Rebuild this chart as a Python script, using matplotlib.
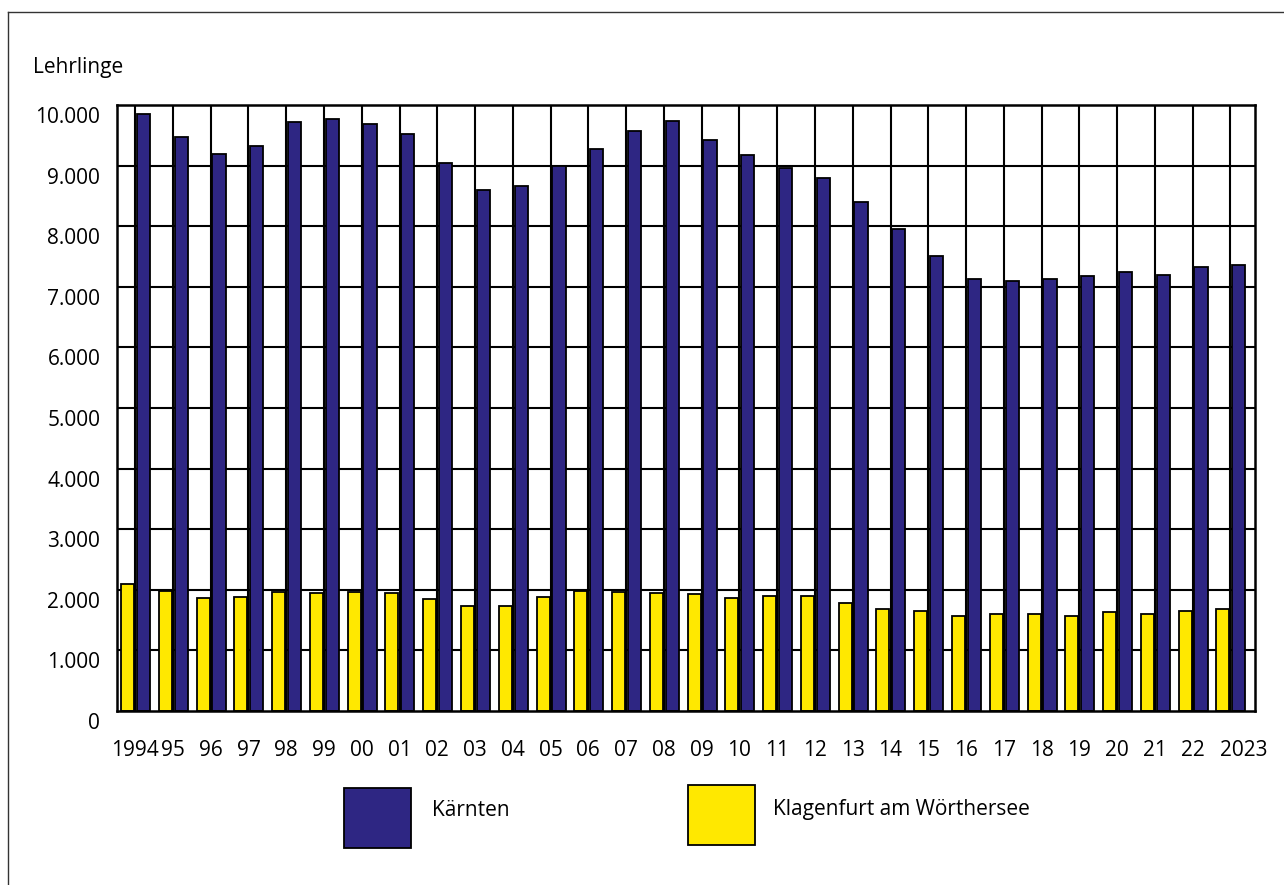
import matplotlib.pyplot as plt
import matplotlib.transforms as mtransforms
from matplotlib.patches import Rectangle
from matplotlib.lines import Line2D
import numpy as np

plt.rcParams['font.family'] = ['Open Sans', 'DejaVu Sans']

# Daten (Lehrlinge pro Jahr)
jahre = list(range(1994, 2024))
x_labels = ['1994', '95', '96', '97', '98', '99', '00', '01', '02', '03', '04',
            '05', '06', '07', '08', '09', '10', '11', '12', '13', '14', '15',
            '16', '17', '18', '19', '20', '21', '22', '2023']
kaernten = [9850, 9478, 9185, 9330, 9712, 9767, 9686, 9516, 9043, 8594,
            8660, 8996, 9282, 9575, 9728, 9425, 9168, 8965, 8795, 8392,
            7955, 7505, 7135, 7088, 7125, 7170, 7240, 7195, 7328, 7360]
klagenfurt = [2090, 1985, 1860, 1881, 1958, 1948, 1968, 1950, 1846, 1730,
              1733, 1886, 1985, 1969, 1942, 1925, 1860, 1892, 1903, 1777,
              1688, 1655, 1573, 1606, 1598, 1573, 1629, 1595, 1645, 1683]

blau = '#2E2683'
gelb = '#FFE800'
fs = 15

fig = plt.figure(figsize=(12.84, 8.85), dpi=100)
ax = fig.add_axes([117/1284, 1-711/885, (1255-117)/1284, (711-105)/885])

idx = np.arange(len(jahre))
ax.bar(idx + 0.28, klagenfurt, width=0.345, color=gelb, edgecolor='black',
       linewidth=1.3, zorder=3)
ax.bar(idx + 0.70, kaernten, width=0.35, color=blau, edgecolor='black',
       linewidth=1.3, zorder=3)

ax.set_xlim(0, 30.13)
ax.set_ylim(0, 10000)

# Gitterlinien
for yv in range(1000, 10000, 1000):
    ax.axhline(yv, color='black', linewidth=1.5, zorder=1)
for i in idx:
    ax.axvline(i + 0.48, color='black', linewidth=1.5, zorder=1)

for s in ax.spines.values():
    s.set_linewidth(1.8)
    s.set_zorder(4)

ax.set_yticks(range(0, 10001, 1000))
ax.set_yticklabels([f'{v:,}'.replace(',', '.') for v in range(0, 10001, 1000)])
ax.tick_params(axis='y', length=0, pad=12, labelsize=fs)
off = mtransforms.ScaledTranslation(0, -0.10, fig.dpi_scale_trans)
for lab in ax.get_yticklabels():
    lab.set_transform(lab.get_transform() + off)

ax.set_xticks(idx + 0.48)
ax.set_xticklabels(x_labels)
ax.tick_params(axis='x', length=0, pad=21, labelsize=fs)
last = ax.get_xticklabels()[-1]
last.set_transform(last.get_transform() +
                   mtransforms.ScaledTranslation(0.13, 0, fig.dpi_scale_trans))

fig.text(33/1284, 1-68/885, 'Lehrlinge', fontsize=fs, va='center', ha='left')

# Legende
fig.patches.append(Rectangle((344/1284, 1-848/885), 67/1284, 60/885,
                             transform=fig.transFigure, facecolor=blau,
                             edgecolor='black', linewidth=1.3))
fig.text(432/1284, 1-810/885, 'Kärnten', fontsize=fs, va='center')
fig.patches.append(Rectangle((688/1284, 1-845/885), 67/1284, 60/885,
                             transform=fig.transFigure, facecolor=gelb,
                             edgecolor='black', linewidth=1.3))
fig.text(773/1284, 1-810/885, 'Klagenfurt am Wörthersee', fontsize=fs, va='center')

# Rahmen
fig.lines.append(Line2D([8/1284, 8/1284], [0, 1-12/885], transform=fig.transFigure,
                        color='#333333', linewidth=1))
fig.lines.append(Line2D([8/1284, 1], [1-12/885, 1-12/885], transform=fig.transFigure,
                        color='#333333', linewidth=1))

fig.savefig('out.png', dpi=100)
